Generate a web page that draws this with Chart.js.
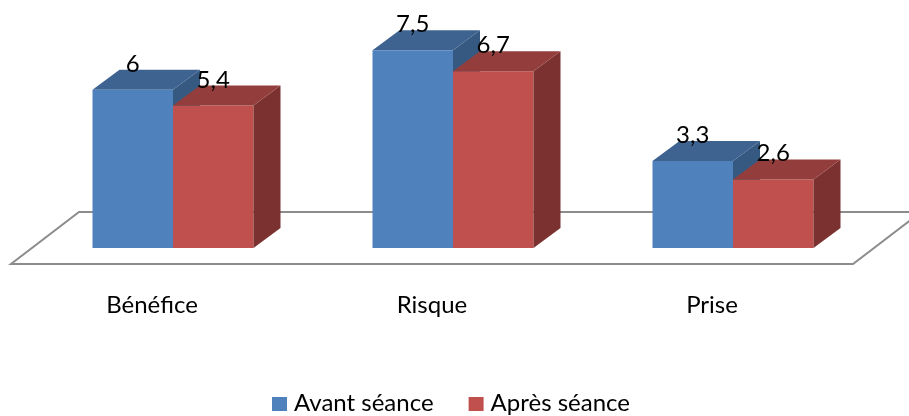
<!DOCTYPE html>
<html lang="fr">
<head>
<meta charset="utf-8">
<script src="https://cdn.jsdelivr.net/npm/chart.js@4"></script>
<style>
  html, body { margin: 0; padding: 0; background: #fff; }
  canvas { display: block; }
</style>
</head>
<body>
<canvas id="c" width="909" height="416"></canvas>
<script>
// --- données ---
const categories = ['Bénéfice', 'Risque', 'Prise'];
const avant = [6, 7.5, 3.3];
const apres = [5.4, 6.7, 2.6];
const seriesNames = ['Avant séance', 'Après séance'];

const FONT = '24px Lato, "Open Sans", sans-serif';
const DX = 27, DY = -20;   // profondeur 3D des barres
const faces = [
  { front: '#4F81BD', top: '#3E6391', side: '#355981' },
  { front: '#C0504D', top: '#933E3C', side: '#7B3130' },
];
const fmt = (v) => String(v).replace('.', ',');

const poly = (ctx, pts, color) => {
  ctx.beginPath();
  pts.forEach(([x, y], i) => (i ? ctx.lineTo(x, y) : ctx.moveTo(x, y)));
  ctx.closePath();
  ctx.fillStyle = color;
  ctx.fill();
};

// faces latérale + dessus d'une série (à partir des barres calculées par Chart.js)
const drawFaces = (chart, i) => {
  const { ctx } = chart;
  const f = faces[i];
  ctx.save();
  chart.getDatasetMeta(i).data.forEach((b) => {
    const l = b.x - b.width / 2, r = b.x + b.width / 2;
    poly(ctx, [[r, b.y], [r + DX, b.y + DY], [r + DX, b.base + DY], [r, b.base]], f.side);
    poly(ctx, [[l, b.y], [r, b.y], [r + DX, b.y + DY], [l + DX, b.y + DY]], f.top);
  });
  ctx.restore();
};

// sol en perspective + faces 3D + étiquettes + légende
// Chart.js dessine la série 1 (rouge) avant la série 0 (bleue) :
// les faces bleues passent donc juste avant la face avant rouge.
const bars3d = {
  id: 'bars3d',
  beforeDatasetsDraw(chart) {
    const { ctx, chartArea: a } = chart;
    const base = chart.scales.y.getPixelForValue(0);
    const fy = base + 16, fl = a.left - 22, fr = a.right - 20;
    ctx.save();
    ctx.strokeStyle = '#8C8C8C';
    ctx.lineWidth = 2;
    ctx.beginPath();
    ctx.moveTo(fl, fy); ctx.lineTo(fr, fy);
    ctx.lineTo(fr + 68, fy - 52); ctx.lineTo(fl + 68, fy - 52);
    ctx.closePath();
    ctx.stroke();
    ctx.restore();
  },
  beforeDatasetDraw(chart, args) {
    if (args.index === 1) drawFaces(chart, 0);
  },
  afterDatasetDraw(chart, args) {
    if (args.index === 1) drawFaces(chart, 1);
  },
  afterDraw(chart) {
    const { ctx } = chart;
    ctx.save();
    ctx.font = FONT;
    ctx.fillStyle = '#000';
    ctx.textBaseline = 'alphabetic';
    ctx.textAlign = 'center';
    chart.data.datasets.forEach((ds, i) => {
      chart.getDatasetMeta(i).data.forEach((b, j) => {
        ctx.fillText(fmt(ds.data[j]), b.x, b.y - 18);
      });
    });
    const xs = chart.scales.x;
    categories.forEach((c, i) => ctx.fillText(c, xs.getPixelForValue(i) - 21, 313));

    // légende
    ctx.textAlign = 'left';
    const gap = 35, box = 15, pad = 7;
    const w = seriesNames.map((n) => box + pad + ctx.measureText(n).width);
    let x = 451 - (w[0] + gap + w[1]) / 2;
    seriesNames.forEach((n, i) => {
      ctx.fillStyle = faces[i].front;
      ctx.fillRect(x, 397, box, 14);
      ctx.fillStyle = '#000';
      ctx.fillText(n, x + box + pad, 411);
      x += w[i] + gap;
    });
    ctx.restore();
  },
};

new Chart(document.getElementById('c'), {
  type: 'bar',
  data: {
    labels: categories,
    datasets: [
      { label: seriesNames[0], data: avant, backgroundColor: faces[0].front },
      { label: seriesNames[1], data: apres, backgroundColor: faces[1].front },
    ],
  },
  options: {
    responsive: false, animation: false,
    layout: { padding: { top: 37, bottom: 168, left: 33, right: 36 } },
    categoryPercentage: 0.575, barPercentage: 1,
    plugins: { legend: { display: false }, tooltip: { enabled: false } },
    scales: {
      x: { display: false },
      y: { display: false, min: 0, max: 8 },
    },
  },
  plugins: [bars3d],
});
</script>
</body>
</html>
